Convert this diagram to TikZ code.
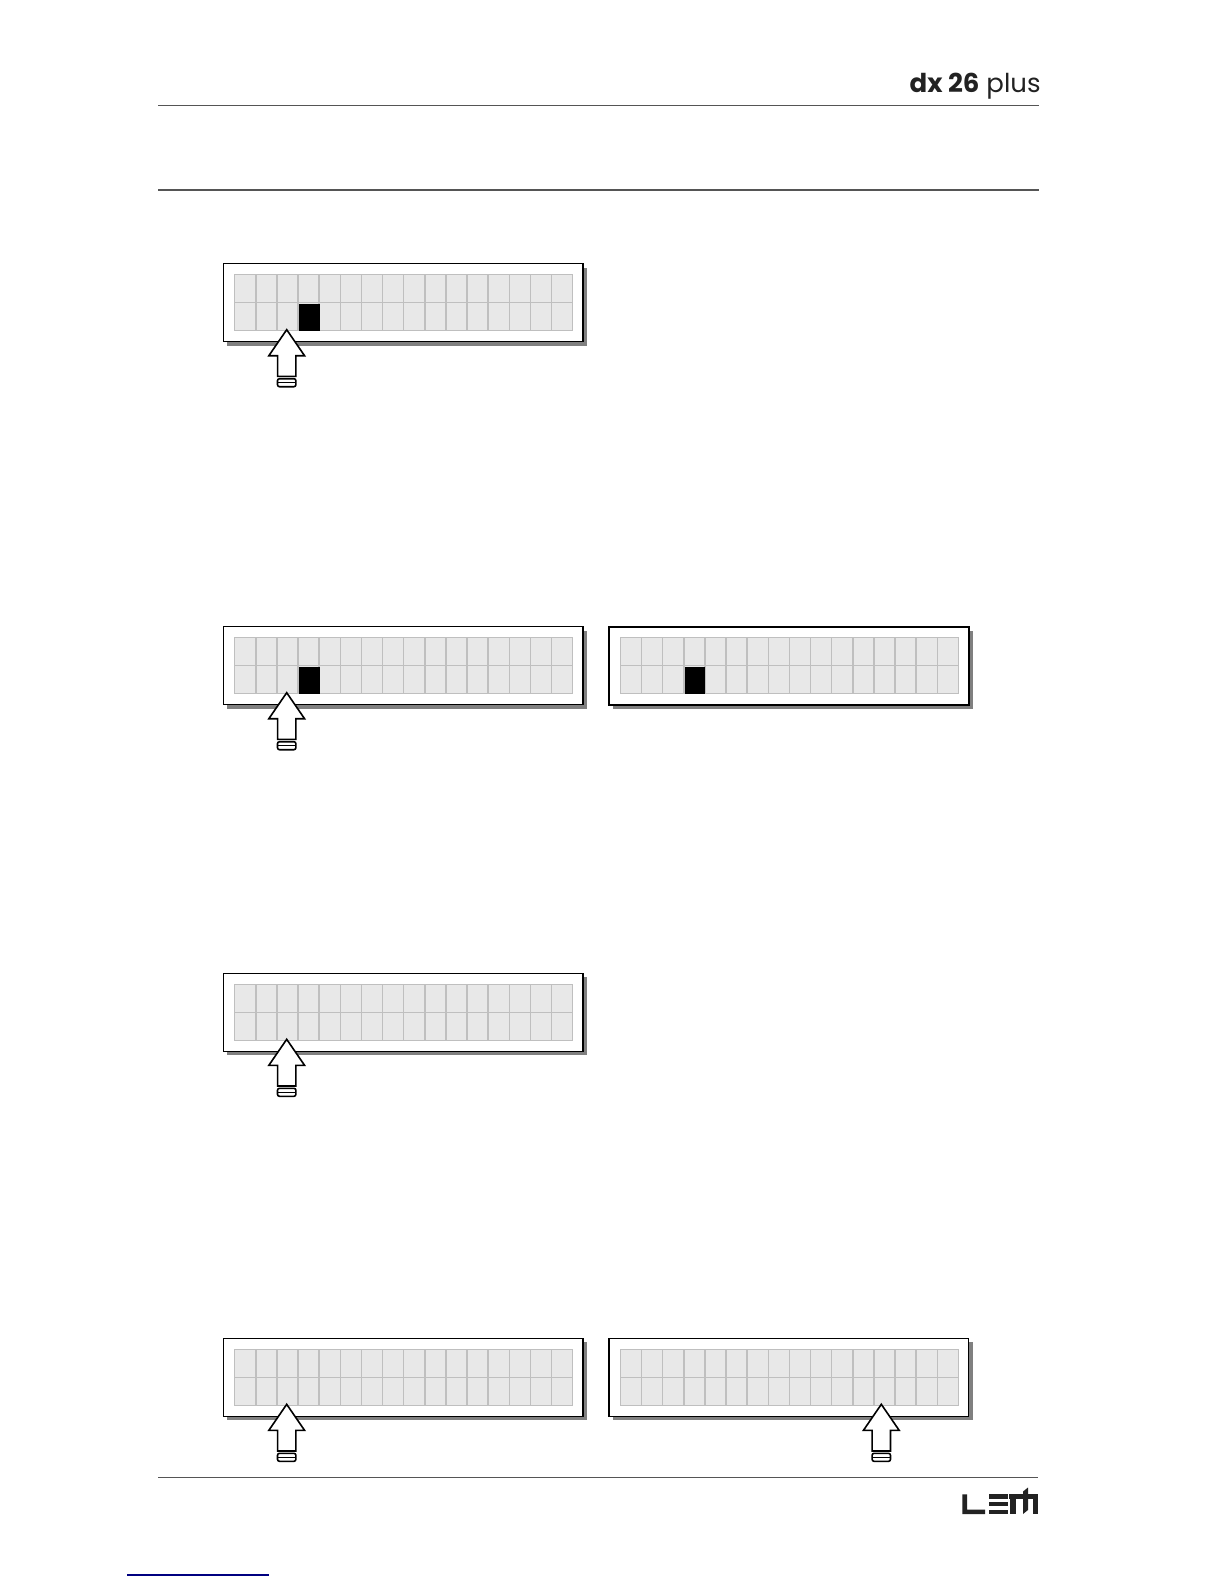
\documentclass[tikz,border=0pt]{standalone}
\usepackage{fontspec}
\usepackage{xcolor}
\usetikzlibrary{positioning,calc,shadows}
\setmainfont{Poppins}
\definecolor{cellbg}{HTML}{e8e8e8}
\definecolor{cellline}{HTML}{bfbfbf}
\definecolor{shade}{HTML}{808080}
\definecolor{rulegray}{HTML}{555555}
\definecolor{linkblue}{HTML}{000080}
\definecolor{logoink}{HTML}{222222}

\begin{document}
\begin{tikzpicture}[
    x=0.5pt, y=-0.5pt,
    lcd/.style={
        rectangle, draw=black, fill=white, anchor=north west, outer sep=0pt,
        minimum width=179.85pt, minimum height=39pt,
        drop shadow={shadow xshift=2pt, shadow yshift=-2pt, fill=shade, opacity=1}
    },
    lcdgrid/.style={
        rectangle, draw=cellline, fill=cellbg, anchor=north west, outer sep=0pt,
        minimum width=169pt, minimum height=28pt, line width=0.75pt
    },
    cursor/.style={
        rectangle, fill=black, anchor=north west, inner sep=0pt,
        minimum width=10.2pt, minimum height=13.6pt
    },
    keyarrow/.style={draw=black, fill=white, line width=0.8pt, line join=miter},
    keybar/.style={
        rectangle, draw=black, fill=white, rounded corners=1pt, outer sep=0pt,
        minimum width=9.2pt, minimum height=4pt, line width=0.8pt, inner sep=0pt
    },
    rulepath/.style={draw=rulegray, line width=0.6pt},
    logo/.style={fill=logoink, draw=none},
]

% Rules
\draw[rulepath] (158,105.7) -- (1038.5,105.7);
\draw[rulepath] (158,190) -- (1038.5,190);
\draw[rulepath] (158,1477.7) -- (1038,1477.7);
\draw[linkblue, line width=0.6pt] (127,1575) -- (269,1575);

% Title
\node[anchor=base east, inner sep=0pt, font=\fontsize{13}{13}\selectfont, text=logoink] (title)
    at (1041,92.3) {\textbf{dx 26} plus};

% Displays
\foreach \name/\x/\y/\lw in {a/223.3/263.7/0.7, b/223.3/626.7/0.7, c/609/626.7/1,
                             d/223.3/973.3/0.7, e/223.3/1338.3/0.7, f/609/1338.3/0.7} {
    \node[lcd, line width=\lw pt] (lcd\name) at (\x,\y) {};
    \node[lcdgrid] (grid\name) at ($(lcd\name.north west)+(11.4,11)$) {};
    \draw[cellline, line width=0.75pt] (grid\name.west) -- (grid\name.east);
    \foreach \i in {1,...,15} {
        \draw[cellline, line width=0.75pt]
            ($(grid\name.north west)+(\i*21.125,0)$) -- ($(grid\name.south west)+(\i*21.125,0)$);
    }
}

% Cursors
\node[cursor] (cura) at ($(grida.north west)+(64.2,28.5)$) {};
\node[cursor] (curb) at ($(gridb.north west)+(64.2,28.5)$) {};
\node[cursor] (curc) at ($(gridc.north west)+(64.2,28.5)$) {};

% Keys
\foreach \name/\src/\dx in {a/lcda/63.4, b/lcdb/63.4, d/lcdd/63.4, e/lcde/63.4, f/lcdf/272.3} {
    \coordinate (key\name) at ($(\src.north west)+(\dx,66)$);
    \draw[keyarrow] (key\name) -- ++(17.85,26) -- ++(-8.7,0) -- ++(0,20.7) -- ++(-18.3,0)
        -- ++(0,-20.7) -- ++(-8.7,0) -- cycle;
    \node[keybar] (bar\name) at ($(key\name)+(0,53)$) {};
    \draw[line width=0.6pt] (bar\name.west) -- (bar\name.east);
}

% Logo
\node[inner sep=0pt] (lem) at (1000,1504) {};
\fill[logo] (962.3,1494.3) -- (967,1494.3) -- (967,1509.5) -- (985,1509.5) -- (985,1514) -- (962.3,1514) -- cycle;
\fill[logo] (988.5,1494.3) rectangle (1008,1499);
\fill[logo] (988.5,1501.7) rectangle (1008,1506);
\fill[logo] (988.5,1509.5) rectangle (1008,1514);
\fill[logo] (1009,1494.3) rectangle (1038.3,1498.5);
\fill[logo] (1010,1494.3) rectangle (1016,1514);
\fill[logo] (1033,1494.3) rectangle (1038.3,1514);
\fill[logo] (1023,1514) -- (1023,1491.5) -- (1028,1487.5) -- (1028,1510) -- cycle;

\useasboundingbox (0,0) rectangle (1224,1584);
\end{tikzpicture}
\end{document}
